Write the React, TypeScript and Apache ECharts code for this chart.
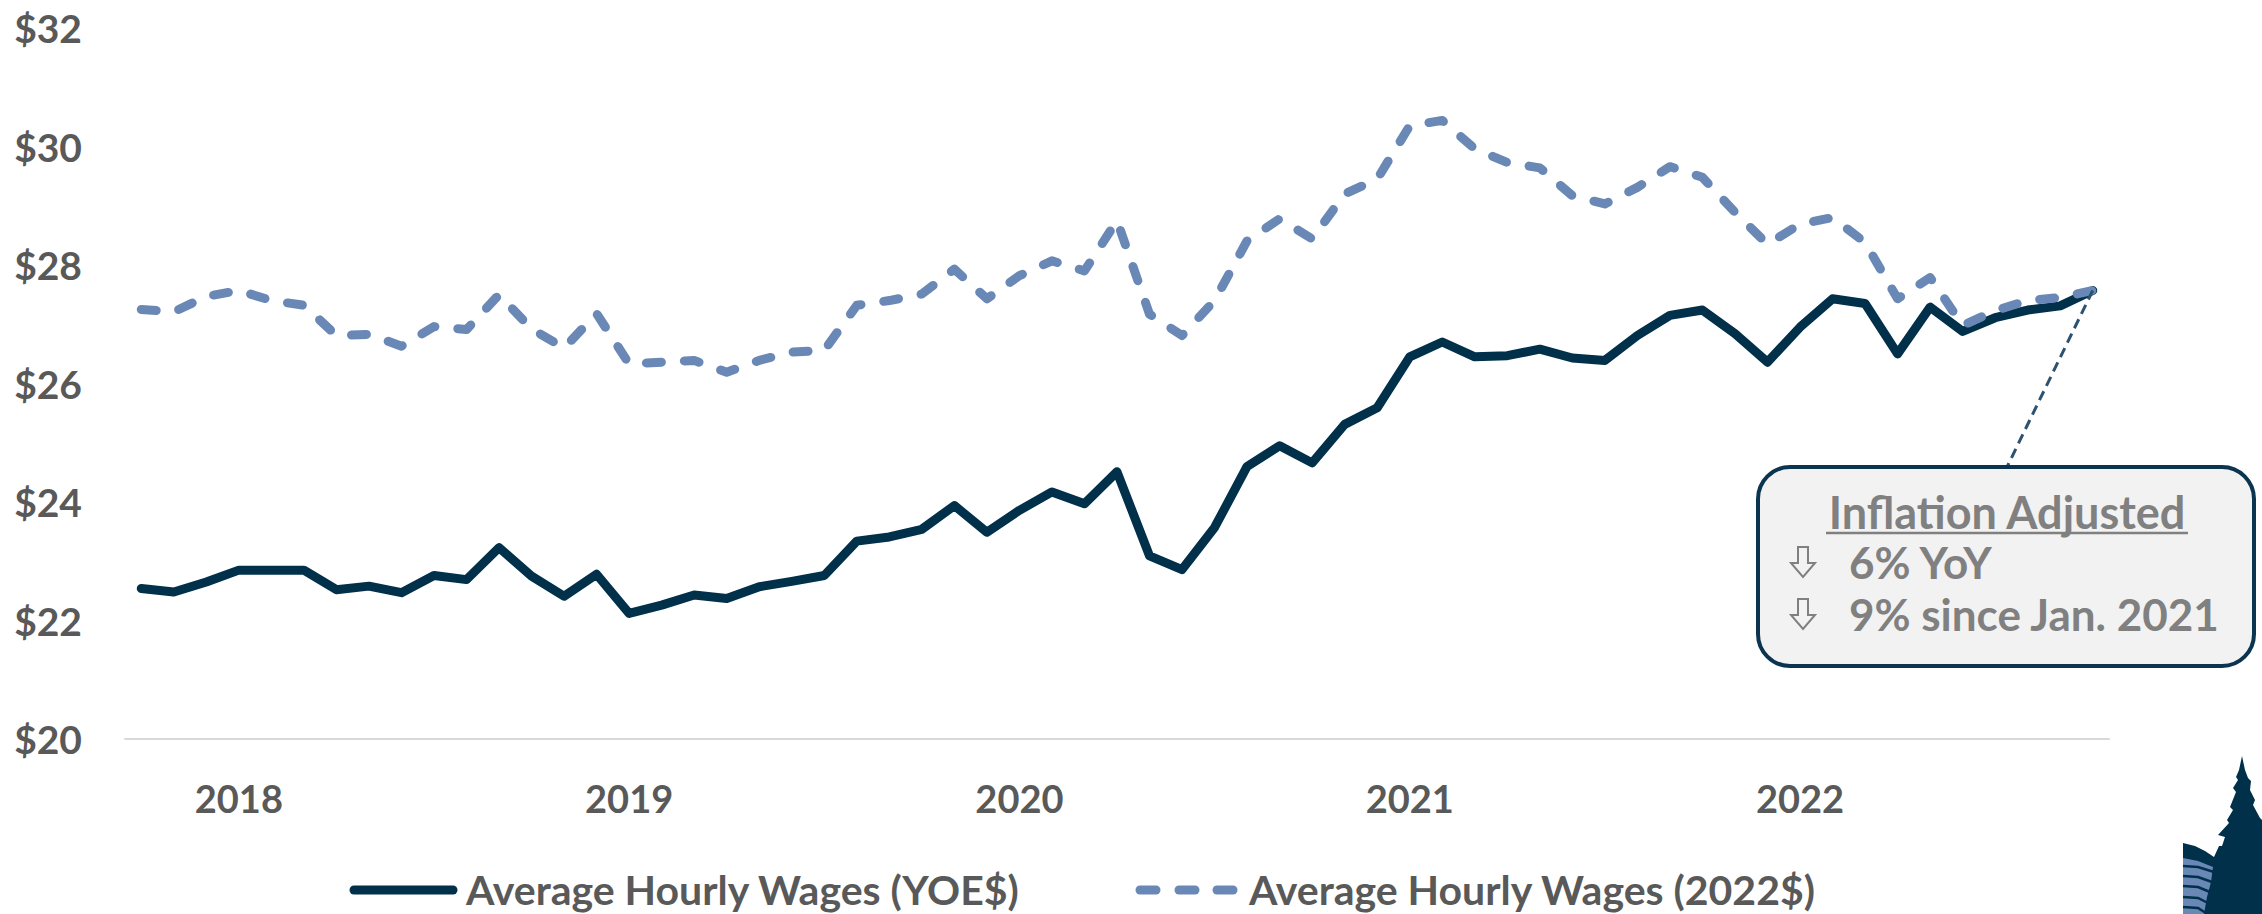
import React, { useEffect, useRef } from "react";
import * as echarts from "echarts";

// Monthly categories Oct 2017 .. Oct 2022
const startYear = 2017;
const startMonth = 10;
const monthCount = 61;
const months: string[] = Array.from({ length: monthCount }, (_, i) => {
  const m = startMonth - 1 + i;
  const y = startYear + Math.floor(m / 12);
  const mo = (m % 12) + 1;
  return `${y}-${String(mo).padStart(2, "0")}`;
});

// Average Hourly Wages (YOE$)
const wagesYOE: number[] = [
  22.54, 22.48, 22.65, 22.85, 22.85, 22.85, 22.52, 22.58, 22.47, 22.76,
  22.69, 23.23, 22.75, 22.41, 22.78, 22.12, 22.26, 22.43, 22.37, 22.57,
  22.66, 22.76, 23.34, 23.41, 23.54, 23.94, 23.49, 23.86, 24.17, 23.97,
  24.51, 23.09, 22.86, 23.57, 24.6, 24.95, 24.66, 25.31, 25.59, 26.45,
  26.7, 26.45, 26.47, 26.58, 26.43, 26.39, 26.81, 27.15, 27.24, 26.84,
  26.36, 26.95, 27.43, 27.35, 26.5, 27.29, 26.88, 27.11, 27.24, 27.31,
  27.57,
];

// Average Hourly Wages (2022$)
const wages2022: number[] = [
  27.25, 27.21, 27.47, 27.57, 27.4, 27.32, 26.81, 26.83, 26.63, 26.96,
  26.91, 27.5, 26.92, 26.6, 27.18, 26.33, 26.36, 26.39, 26.19, 26.39,
  26.53, 26.56, 27.32, 27.4, 27.51, 27.93, 27.43, 27.82, 28.07, 27.9,
  28.75, 27.17, 26.81, 27.4, 28.41, 28.78, 28.44, 29.2, 29.45, 30.35,
  30.44, 29.96, 29.73, 29.64, 29.17, 29.03, 29.31, 29.66, 29.48, 28.89,
  28.35, 28.69, 28.8, 28.38, 27.43, 27.79, 26.98, 27.23, 27.4, 27.45,
  27.57,
];

const seriesNames = ["Average Hourly Wages (YOE$)", "Average Hourly Wages (2022$)"];
const yMin = 20;
const yMax = 32;
const yStep = 2;
const calloutTitle = "Inflation Adjusted";
const calloutLines = ["6% YoY", "9% since Jan. 2021"];

const NAVY = "#00304a";
const BLUE = "#6a88b6";
const GRAY = "#595959";
const LIGHTGRAY = "#808080";
const FONT = "Lato";

export default function App() {
  const ref = useRef<HTMLDivElement>(null);

  useEffect(() => {
    document.body.style.margin = "0";
    if (!ref.current) return;
    const chart = echarts.init(ref.current, undefined, { renderer: "svg" });

    const option: any = {
      animation: false,
      backgroundColor: "#ffffff",
      grid: { left: 125, right: 153, top: 28, bottom: 175, containLabel: false },
      xAxis: {
        type: "category",
        data: months,
        boundaryGap: true,
        axisLine: { lineStyle: { color: "#d9d9d9", width: 2 } },
        axisTick: { show: false },
        splitLine: { show: false },
        axisLabel: {
          interval: (_idx: number, val: string) => val.endsWith("-01"),
          formatter: (val: string) => val.slice(0, 4),
          color: GRAY,
          fontSize: 38,
          fontWeight: "bold",
          fontFamily: FONT,
          margin: 40,
        },
      },
      yAxis: {
        type: "value",
        min: yMin,
        max: yMax,
        interval: yStep,
        axisLine: { show: false },
        axisTick: { show: false },
        splitLine: { show: false },
        axisLabel: {
          formatter: (v: number) => "$" + v,
          color: GRAY,
          fontSize: 39,
          fontWeight: "bold",
          fontFamily: FONT,
          margin: 43,
        },
      },
      series: [
        {
          name: seriesNames[0],
          type: "line",
          data: wagesYOE,
          symbol: "none",
          lineStyle: { color: NAVY, width: 9, join: "round", cap: "round" },
          z: 2,
        },
        {
          name: seriesNames[1],
          type: "line",
          data: wages2022,
          symbol: "none",
          lineStyle: { color: BLUE, width: 9, type: [15, 23], cap: "round", join: "round" },
          z: 3,
        },
      ],
    };
    chart.setOption(option);

    const end = chart.convertToPixel({ xAxisIndex: 0, yAxisIndex: 0 }, [
      monthCount - 1,
      wagesYOE[monthCount - 1],
    ]) as number[];

    const boxX = 1758, boxY = 467, boxW = 496, boxH = 199;
    const arrow = (x: number, y: number) => ({
      type: "polygon",
      z: 12,
      shape: {
        points: [
          [x + 7, y], [x + 17, y], [x + 17, y + 16], [x + 24, y + 16],
          [x + 12, y + 30], [x, y + 16], [x + 7, y + 16],
        ],
      },
      style: { fill: "#f2f2f2", stroke: LIGHTGRAY, lineWidth: 2 },
    });
    const elements: any[] = [
      // leader line
      {
        type: "line",
        z: 10,
        shape: { x1: end[0], y1: end[1], x2: 2007, y2: boxY },
        style: { stroke: "#2c5272", lineWidth: 3, lineDash: [10, 6] },
      },
      {
        type: "rect",
        z: 11,
        shape: { x: boxX, y: boxY, width: boxW, height: boxH, r: 32 },
        style: { fill: "#f2f2f2", stroke: "#0b3450", lineWidth: 4 },
      },
      {
        type: "text",
        z: 12,
        x: 2007,
        y: 512,
        style: {
          text: calloutTitle,
          fill: LIGHTGRAY,
          fontSize: 45,
          fontWeight: "bold",
          fontFamily: FONT,
          textAlign: "center",
          textVerticalAlign: "middle",
        },
      },
      {
        type: "line",
        z: 12,
        shape: { x1: 1826, y1: 533, x2: 2188, y2: 533 },
        style: { stroke: LIGHTGRAY, lineWidth: 2.5 },
      },
      ...calloutLines.flatMap((t, k) => {
        const cy = 562 + k * 52;
        return [
          arrow(1791, cy - 15),
          {
            type: "text",
            z: 12,
            x: 1849,
            y: cy,
            style: {
              text: t,
              fill: LIGHTGRAY,
              fontSize: 44,
              fontWeight: "bold",
              fontFamily: FONT,
              textAlign: "left",
              textVerticalAlign: "middle",
            },
          },
        ];
      }),
      // legend
      {
        type: "line",
        shape: { x1: 354, y1: 890, x2: 453, y2: 890 },
        style: { stroke: NAVY, lineWidth: 9, lineCap: "round" },
      },
      {
        type: "text",
        x: 466,
        y: 889,
        style: {
          text: seriesNames[0],
          fill: GRAY,
          fontSize: 41,
          fontWeight: "bold",
          fontFamily: FONT,
          textAlign: "left",
          textVerticalAlign: "middle",
        },
      },
      ...[1148, 1187, 1225].map((cx) => ({
        type: "line",
        shape: { x1: cx - 8, y1: 890, x2: cx + 8, y2: 890 },
        style: { stroke: BLUE, lineWidth: 9, lineCap: "round" },
      })),
      {
        type: "text",
        x: 1249,
        y: 889,
        style: {
          text: seriesNames[1],
          fill: GRAY,
          fontSize: 41,
          fontWeight: "bold",
          fontFamily: FONT,
          textAlign: "left",
          textVerticalAlign: "middle",
        },
      },
      // logo (tree + hill), cut at right edge
      {
        type: "polygon",
        shape: {
          points: [
            [2183, 843], [2195, 846], [2205, 851], [2214, 857], [2219, 846], [2222, 846],
            [2225, 837], [2218, 835], [2229, 823], [2227, 820], [2233, 810], [2230, 807],
            [2236, 792], [2233, 788], [2238, 780], [2236, 777], [2239, 770], [2242, 756],
            [2245, 770], [2248, 778], [2251, 781], [2250, 790], [2255, 800], [2253, 805],
            [2260, 818], [2262, 820], [2262, 914], [2183, 914],
          ],
        },
        style: { fill: NAVY },
      },
      {
        type: "polygon",
        shape: {
          points: [
            [2183, 858], [2198, 861], [2213, 867], [2211, 882], [2207, 897], [2204, 914], [2183, 914],
          ],
        },
        style: { fill: BLUE },
      },
      ...[866, 876, 886, 897, 907].map((yy, k) => ({
        type: "polyline",
        shape: { points: [[2183, yy], [2198, yy + 1], [2214 - k * 2, yy + 6]] },
        style: { stroke: NAVY, lineWidth: 2.5, fill: null },
      })),
    ];
    chart.setOption({ graphic: { elements } });

    return () => chart.dispose();
  }, []);

  return (
    <div
      ref={ref}
      style={{ position: "fixed", left: 0, top: 0, width: "2262px", height: "914px" }}
    />
  );
}
